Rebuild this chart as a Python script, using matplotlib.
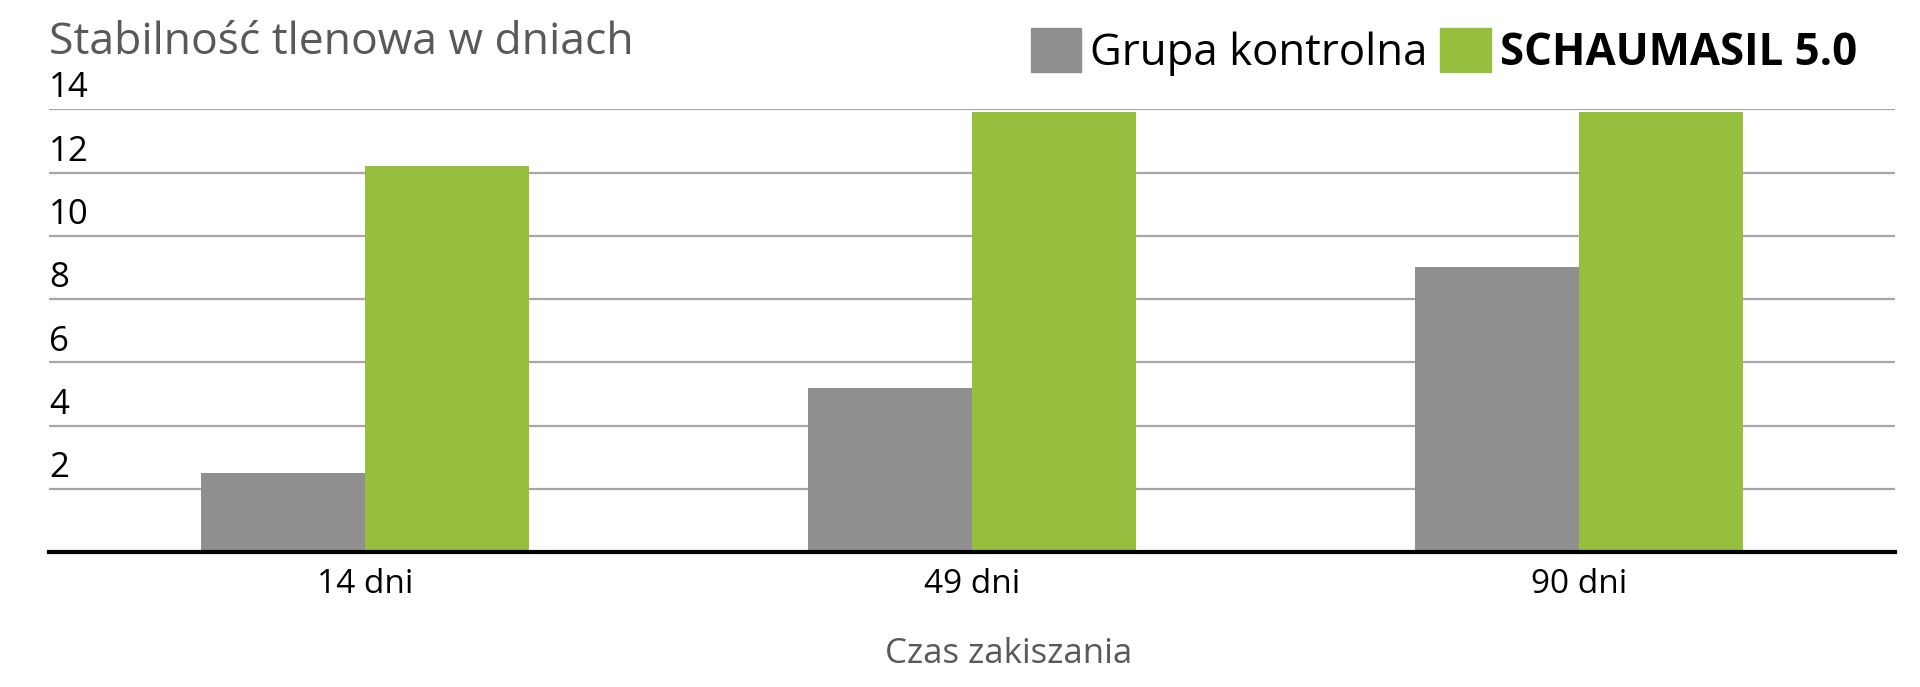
import matplotlib
matplotlib.use("Agg")
import matplotlib.pyplot as plt
from matplotlib.patches import Patch
import numpy as np

plt.rcParams['font.family'] = ['Open Sans', 'DejaVu Sans']

categories = ['14 dni', '49 dni', '90 dni']
kontrolna = [2.5, 5.2, 9.0]
schaumasil = [12.2, 13.9, 13.9]
series_names = ['Grupa kontrolna', 'SCHAUMASIL 5.0']
yticks = [2, 4, 6, 8, 10, 12, 14]

gray = '#8f8f8f'
green = '#96bf3e'

fig = plt.figure(figsize=(19.2, 6.87), dpi=100)
ax = fig.add_axes([0.0255, 0.196, 0.9615, 0.645])

x = np.arange(len(categories))
w = 0.27
ax.bar(x - w / 2, kontrolna, w, color=gray, zorder=2)
ax.bar(x + w / 2, schaumasil, w, color=green, zorder=2)

ax.set_xlim(-0.52, len(categories) - 0.48)
ax.set_ylim(0, 14)
ax.set_yticks(yticks)
ax.yaxis.grid(True, color='#a6a6a6', linewidth=1.6, zorder=1)
ax.tick_params(axis='y', length=0, labelleft=False)
ax.tick_params(axis='x', length=0, labelsize=24, pad=11)
ax.set_xticks(x)
ax.set_xticklabels(categories)
for s in ['top', 'right', 'left']:
    ax.spines[s].set_visible(False)
ax.spines['bottom'].set_linewidth(3)
ax.spines['bottom'].set_color('black')
ax.spines['bottom'].set_zorder(3)

# y labels sit above the gridlines at the left edge
for v in yticks:
    ax.text(0, v + 0.12, str(v), transform=ax.get_yaxis_transform(),
            ha='left', va='bottom', fontsize=25, color='black')

fig.text(0.0255, 0.938, 'Stabilność tlenowa w dniach', fontsize=32,
         color='#595959', ha='left', va='center')
fig.text(0.5255, 0.048, 'Czas zakiszania', fontsize=25, color='#595959',
         ha='center', va='center')

handles = [Patch(color=gray), Patch(color=green)]
leg = fig.legend(handles, series_names, loc='center right',
                 bbox_to_anchor=(0.967, 0.924), ncol=2, frameon=False,
                 fontsize=31.5, handlelength=1.15, handleheight=1.15,
                 handletextpad=0.2, columnspacing=0.3, borderpad=0,
                 borderaxespad=0)
leg.get_texts()[1].set_fontweight('bold')

fig.savefig('out.png', dpi=100)
